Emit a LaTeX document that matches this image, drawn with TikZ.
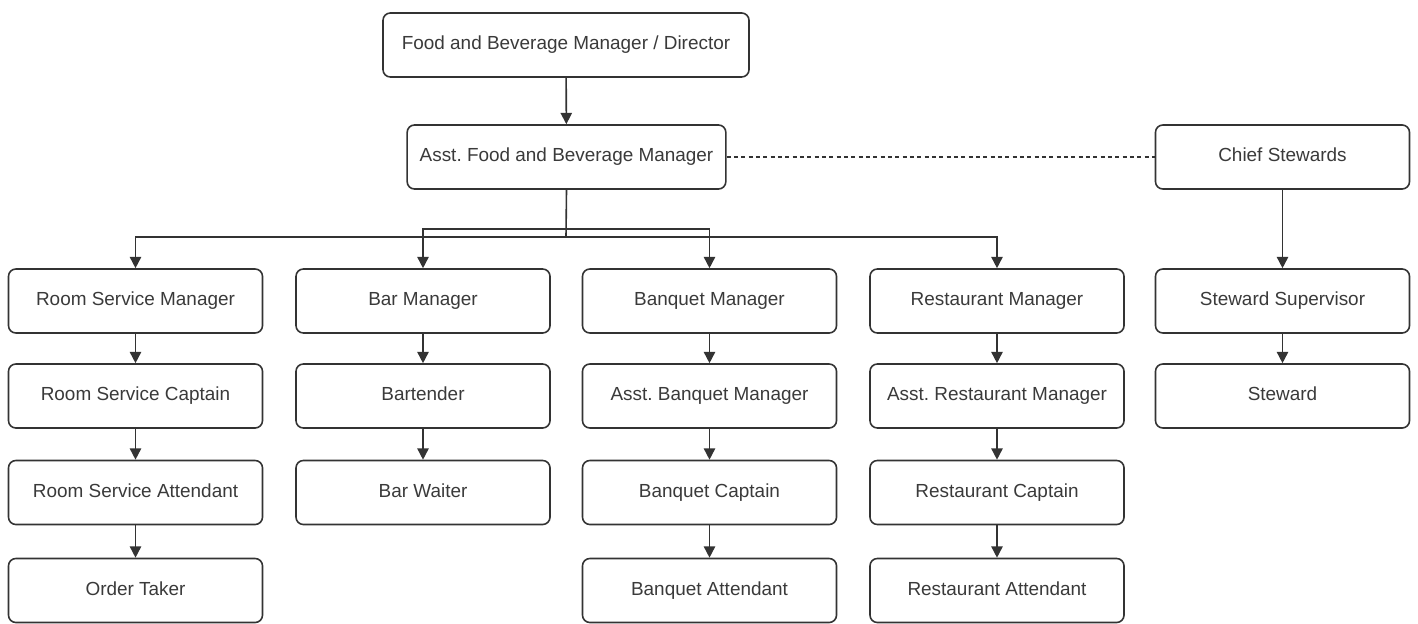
\documentclass[tikz,border=0pt]{standalone}
\usepackage{fontspec}
\setmainfont{Liberation Sans}
\frenchspacing
\usetikzlibrary{arrows.meta}
\definecolor{ln}{HTML}{333333}
\definecolor{tx}{HTML}{3A3A3A}
\tikzset{
  box/.style={draw=ln, line width=1.2pt, rounded corners=5.5pt, fill=white,
    minimum width=190.5pt, minimum height=48pt, inner sep=0pt,
    text height=10.2pt, text depth=3pt,
    text=tx, font=\fontsize{14.2}{16}\selectfont},
  conn/.style={draw=ln, line width=1.2pt, -{Triangle[width=8.5pt,length=8.5pt]}},
  plain/.style={draw=ln, line width=1.2pt},
  dash line/.style={draw=ln, line width=1.2pt, dash pattern=on 3pt off 2.5pt}
}
\begin{document}
\begin{tikzpicture}[x=0.75pt,y=-0.75pt]
\useasboundingbox (0,0) rectangle (1418,624);
% top
\node[box, minimum width=274.5pt] (fbm) at (566,45) {Food and Beverage Manager / Director};
\node[box, minimum width=239pt] (afbm) at (566.5,157) {Asst. Food and Beverage Manager};
\node[box] (chief) at (1282.5,157) {Chief Stewards};
% row 1
\node[box] (rsm) at (135.5,301) {Room Service Manager};
\node[box] (bm) at (423,301) {Bar Manager};
\node[box] (bqm) at (709.5,301) {Banquet Manager};
\node[box] (rm) at (997,301) {Restaurant Manager};
\node[box] (ss) at (1282.5,301) {Steward Supervisor};
% row 2
\node[box] (rsc) at (135.5,396) {Room Service Captain};
\node[box] (bt) at (423,396) {Bartender};
\node[box] (abm) at (709.5,396) {Asst. Banquet Manager};
\node[box] (arm) at (997,396) {Asst. Restaurant Manager};
\node[box] (st) at (1282.5,396) {Steward};
% row 3
\node[box] (rsa) at (135.5,492.5) {Room Service Attendant};
\node[box] (bw) at (423,492.5) {Bar Waiter};
\node[box] (bc) at (709.5,492.5) {Banquet Captain};
\node[box] (rc) at (997,492.5) {Restaurant Captain};
% row 4
\node[box] (ot) at (135.5,590.5) {Order Taker};
\node[box] (ba) at (709.5,590.5) {Banquet Attendant};
\node[box] (ra) at (997,590.5) {Restaurant Attendant};
% connectors
\coordinate (j1) at (566,237);
\coordinate (j2) at (566,229);
\draw[conn] (fbm) -- (afbm);
\draw[dash line] (afbm.east) -- (chief.west);
\draw[plain] (afbm.south) -- (j1);
\draw[conn] (j1) -| (rsm.north);
\draw[conn] (j1) -| (rm.north);
\draw[conn] (j2) -| (bm.north);
\draw[conn] (j2) -| (bqm.north);
\draw[conn] (chief) -- (ss);
\draw[conn] (rsm) -- (rsc);
\draw[conn] (rsc) -- (rsa);
\draw[conn] (rsa) -- (ot);
\draw[conn] (bm) -- (bt);
\draw[conn] (bt) -- (bw);
\draw[conn] (bqm) -- (abm);
\draw[conn] (abm) -- (bc);
\draw[conn] (bc) -- (ba);
\draw[conn] (rm) -- (arm);
\draw[conn] (arm) -- (rc);
\draw[conn] (rc) -- (ra);
\draw[conn] (ss) -- (st);
\end{tikzpicture}
\end{document}
